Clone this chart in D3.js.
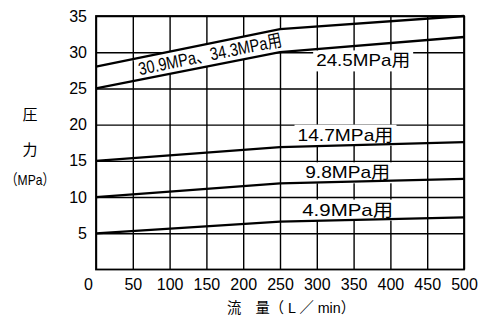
<!DOCTYPE html>
<html><head><meta charset="utf-8">
<script src="https://cdn.jsdelivr.net/npm/d3@7"></script>
<style>
html,body{margin:0;padding:0;background:#fff;}
svg{display:block;font-family:"Liberation Sans","Noto Sans CJK JP",sans-serif;}
</style></head>
<body><svg id="c" width="478" height="320"></svg>
<script>
const flows = [0, 250, 500];
const p343 = [28, 33.2, 35];
const p245 = [25, 30, 32.1];
const p147 = [15, 16.9, 17.6];
const p98 = [10, 11.9, 12.5];
const p49 = [5, 6.6, 7.2];
const xTicks = [0, 50, 100, 150, 200, 250, 300, 350, 400, 450, 500];
const yTicks = [5, 10, 15, 20, 25, 30, 35];
const labels = ["30.9MPa、34.3MPa用", "24.5MPa用", "14.7MPa用", "9.8MPa用", "4.9MPa用"];
const yTitle = ["圧", "力", "（MPa）"];
const xTitle = "流　量（ L ／ min）";

const svg = d3.select("#c");
const L = 96, R = 464, T = 16, B = 269.5;
const x = d3.scaleLinear([0, 500], [L, R]);
const y = d3.scaleLinear([0, 35], [B, T]);

// grid via axes
const gy = svg.append("g").attr("transform", `translate(${L},0)`)
  .call(d3.axisLeft(y).tickValues(yTicks).tickSize(-(R - L)).tickPadding(9));
gy.select(".domain").remove();
gy.selectAll("line").attr("stroke", "#000").attr("stroke-width", 1.4);
gy.selectAll("text").attr("font-size", 16).attr("fill", "#000");

const gx = svg.append("g").attr("transform", `translate(0,${B})`)
  .call(d3.axisBottom(x).tickValues(xTicks).tickSize(-(B - T)).tickPadding(9));
gx.select(".domain").remove();
gx.selectAll("line").attr("stroke", "#000").attr("stroke-width", 1.4);
gx.selectAll("text").attr("font-size", 16).attr("fill", "#000")
  .attr("dx", d => d === 0 ? -8 : 0);

// frame
svg.append("rect").attr("x", L).attr("y", T).attr("width", R - L).attr("height", B - T)
  .attr("fill", "none").attr("stroke", "#000").attr("stroke-width", 1.8);

// layers
const boxLayer = svg.append("g");
const curveLayer = svg.append("g");
const textLayer = svg.append("g");

function boxLabel(transform, text, len, fs) {
  const gt = textLayer.append("g").attr("transform", transform);
  const t = gt.append("text").attr("text-anchor", "middle").attr("dominant-baseline", "central")
    .attr("font-size", fs).attr("fill", "#000").attr("textLength", len)
    .attr("lengthAdjust", "spacingAndGlyphs").text(text);
  const bb = t.node().getBBox();
  boxLayer.append("g").attr("transform", transform).append("rect")
    .attr("x", -len / 2 - 3).attr("y", bb.y - 1)
    .attr("width", len + 6).attr("height", bb.height + 2).attr("fill", "#fff");
}
// rotated label between 34.3 and 24.5 curves
const ang = Math.atan2(y(p343[1]) - y(p343[0]), x(flows[1]) - x(flows[0])) * 180 / Math.PI;
const fm = 155;
const interp = (arr) => arr[0] + (arr[1] - arr[0]) * fm / 250;
const cy0 = (y(interp(p343)) + y(interp(p245))) / 2;
boxLabel(`translate(${x(fm)},${cy0}) rotate(${ang})`, labels[0], 146, 18);

const pos = [[363, 28.8, 94], [339, 18.55, 96], [342, 13.35, 85], [342, 8.2, 91]];
pos.forEach((p, i) => {
  boxLabel(`translate(${x(p[0])},${y(p[1])})`, labels[i + 1], p[2], 17);
});

// curves
const line = d3.line().x((d, i) => x(flows[i])).y(d => y(d));
[p343, p245, p147, p98, p49].forEach(s => {
  curveLayer.append("path").attr("d", line(s)).attr("fill", "none")
    .attr("stroke", "#000").attr("stroke-width", 2.3);
});

// y title
const ty = [114, 149, 179];
yTitle.forEach((t, i) => {
  const e = svg.append("text").attr("x", 30).attr("y", ty[i]).attr("text-anchor", "middle")
    .attr("dominant-baseline", "central").attr("font-size", 15)
    .attr("fill", "#000").text(t);
  if (i === 2) e.attr("textLength", 49).attr("lengthAdjust", "spacingAndGlyphs");
});
// x title
svg.append("text").attr("x", 291).attr("y", 307).attr("text-anchor", "middle")
  .attr("dominant-baseline", "central").attr("font-size", 15).attr("fill", "#000")
  .attr("textLength", 128).attr("lengthAdjust", "spacingAndGlyphs").text(xTitle);
</script></body></html>
